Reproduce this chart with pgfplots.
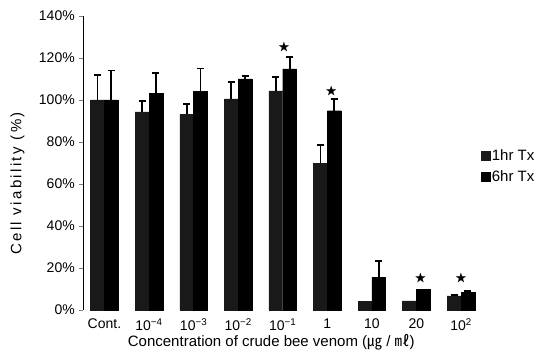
\documentclass[border=0pt]{standalone}
\usepackage{pgfplots}
\usepackage{pgfplotstable}
\pgfplotsset{compat=1.18}
\usepackage{amssymb}
\usepackage{fontspec}
\setmainfont{Liberation Sans}
\newfontfamily\cjk{Noto Sans CJK KR}
\newfontfamily\widefont[LetterSpace=16]{Liberation Sans}
\pgfplotstableread{
x  a     ea   b     eb
0  100   12   100   14
1  94.3  5.2  103   10
2  93.3  4.7  104   11
3  100.5 8.1  110   1.5
4  104.4 6.6  114.8 5.8
5  69.8  8.6  94.9  5.6
6  4.1   nan  15.4  8.1
7  4.4   nan  9.9   nan
8  6.7   0.5  8.4   0.5
}\data
\begin{document}
\begin{tikzpicture}
\useasboundingbox (-83.3pt,-42pt) rectangle (453.7pt,310pt);
\begin{axis}[
  at={(0,0)}, anchor=south west,
  scale only axis, width=400pt, height=294pt,
  xmin=-0.475, xmax=8.5, ymin=0, ymax=140,
  clip=false,
  axis lines*=left,
  x axis line style={draw=none},
  y axis line style={line width=0.8pt},
  xtick={0,...,8},
  xticklabels={Cont.,10\textsuperscript{−4},10\textsuperscript{−3},10\textsuperscript{−2},10\textsuperscript{−1},1,10,20,10\textsuperscript{2}},
  xtick style={draw=none},
  ytick={0,20,...,140},
  yticklabel={\pgfmathprintnumber{\tick}\%},
  /pgf/number format/assume math mode=true,
  tick align=outside, major tick length=4pt,
  ytick style={line width=0.8pt},
  tick label style={font=\fontsize{14}{16}\selectfont},
  yticklabel style={xshift=-1pt},
  xticklabel style={yshift=-1pt},
  xlabel={Concentration of crude bee venom ({\cjk ㎍} / {\cjk ㎖})},
  xlabel style={font=\fontsize{15}{17}\selectfont, at={(rel axis cs:0.47,0)}, anchor=base, yshift=-37pt},
  ylabel={Cell viability (\%)},
  ylabel style={font=\fontsize{15}{17}\selectfont\widefont, at={(axis description cs:-0.1645,0.43)}, anchor=center},
  legend style={at={(rel axis cs:0.985,0.56)}, anchor=north west, draw=none, fill=none,
    row sep=5pt, font=\fontsize{15}{17}\selectfont, legend cell align=left},
  legend image code/.code={\fill[#1] (0pt,-4.5pt) rectangle (9pt,4.5pt);},
]
\addplot[ybar, bar width=0.31, bar shift=-0.155, fill=black!90, draw=black!90]
  table[x=x, y=a] {\data};
\addlegendentry{1hr Tx}
\addplot[ybar, bar width=0.31, bar shift=0.155, fill=black, draw=black]
  table[x=x, y=b] {\data};
\addlegendentry{6hr Tx}
\addplot[forget plot, draw=none, mark=none,
  error bars/.cd, y dir=plus, y explicit,
  error bar style={line width=1.8pt, black},
  error mark options={rotate=90, mark size=3.5pt, line width=1.8pt, black}]
  table[x expr=\thisrow{x}-0.155, y=a, y error=ea] {\data};
\addplot[forget plot, draw=none, mark=none,
  error bars/.cd, y dir=plus, y explicit,
  error bar style={line width=1.8pt, black},
  error mark options={rotate=90, mark size=3.5pt, line width=1.8pt, black}]
  table[x expr=\thisrow{x}+0.155, y=b, y error=eb] {\data};
\addplot[forget plot, draw=none, mark=none,
  nodes near coords={$\bigstar$},
  every node near coord/.style={anchor=center, font=\large, inner sep=0pt}]
  coordinates {(4.03,125) (5.09,104) (7.09,15) (8.0,15)};
\end{axis}
\end{tikzpicture}
\end{document}
